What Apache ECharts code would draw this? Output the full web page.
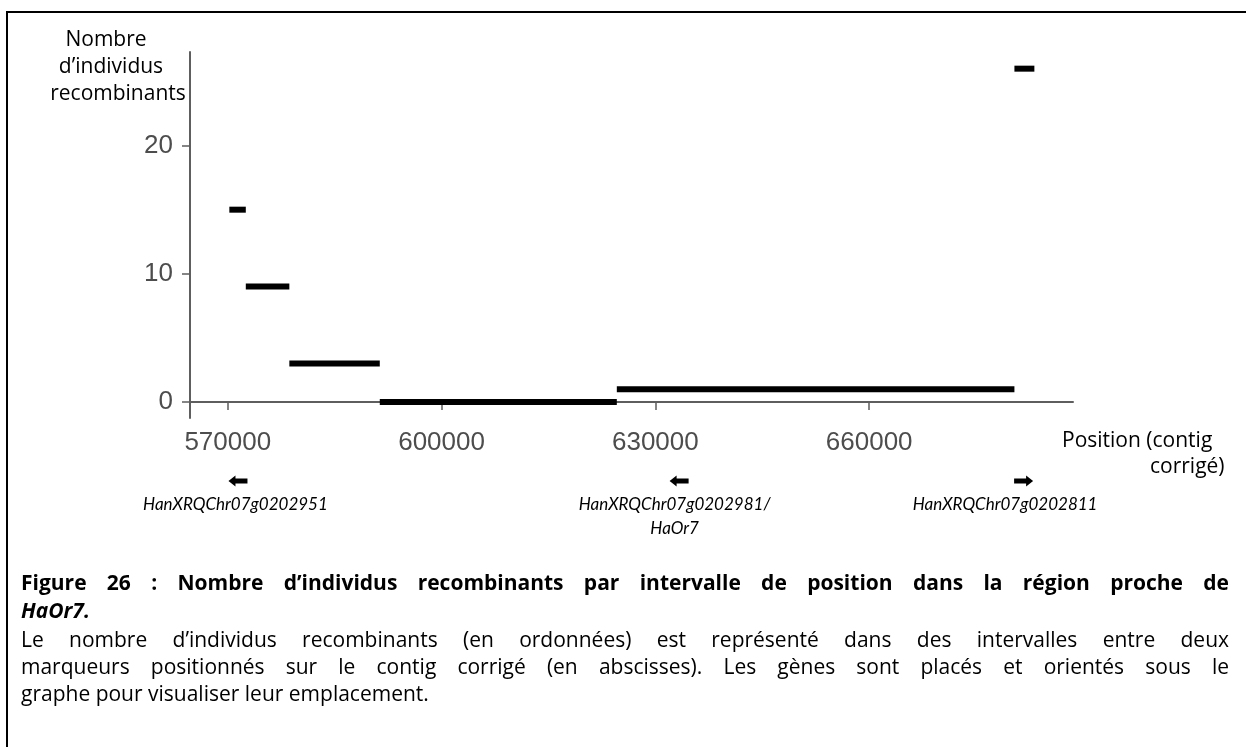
<!DOCTYPE html>
<html>
<head>
<meta charset="utf-8">
<script src="https://cdn.jsdelivr.net/npm/echarts@6/dist/echarts.min.js"></script>
<style>
  html, body { margin: 0; padding: 0; background: #fff; }
  #main { width: 1246px; height: 747px; }
</style>
</head>
<body>
<div id="main"></div>
<script>
// intervals between markers (position on corrected contig) and recombinant counts
const segStart = [570220, 572530, 578640, 591330, 624590, 680380];
const segEnd   = [572530, 578640, 591330, 624590, 680380, 683180];
const segCount = [15, 9, 3, 0, 1, 26];

const xTicks = [570000, 600000, 630000, 660000];
const yTicks = [0, 10, 20];

// genes under the graph
const geneNames = ["HanXRQChr07g0202951", "HanXRQChr07g0202981/\nHaOr7", "HanXRQChr07g0202811"];
const genePos = [571500, 633400, 681600];
const geneDir = ["left", "left", "right"];

const captionLines = [
  "Figure 26 : Nombre d\u2019individus recombinants par intervalle de position dans la r\u00e9gion proche de",
  "HaOr7.",
  "Le nombre d\u2019individus recombinants (en ordonn\u00e9es) est repr\u00e9sent\u00e9 dans des intervalles entre deux",
  "marqueurs positionn\u00e9s sur le contig corrig\u00e9 (en abscisses). Les g\u00e8nes sont plac\u00e9s et orient\u00e9s sous le",
  "graphe pour visualiser leur emplacement."
];

const segData = segStart.map((s, i) => [s, segEnd[i], segCount[i]]);
const axisGrey = "#5e5e5e";
const labelGrey = "#4d4d4d";
const textFont = "Open Sans";
const textSize = 21;

const chart = echarts.init(document.getElementById("main"));

chart.setOption({
  animation: false,
  grid: { left: 190, top: 52, right: 173, bottom: 329 },
  xAxis: {
    type: "value",
    min: 564700,
    max: 688600,
    axisLine: { lineStyle: { color: axisGrey, width: 2 } },
    axisTick: { show: true, length: 8, lineStyle: { color: axisGrey, width: 1.5 }, customValues: xTicks },
    axisLabel: {
      customValues: xTicks, color: labelGrey, fontSize: 26,
      fontFamily: "Liberation Sans", margin: 12,
      formatter: v => String(v)
    },
    splitLine: { show: false }
  },
  yAxis: {
    type: "value",
    min: -1.25,
    max: 27.3,
    axisLine: { show: true, lineStyle: { color: axisGrey, width: 2 } },
    axisTick: { show: true, length: 8, lineStyle: { color: axisGrey, width: 1.5 }, customValues: yTicks },
    axisLabel: {
      customValues: yTicks, color: labelGrey, fontSize: 26,
      fontFamily: "Liberation Sans", margin: 17
    },
    splitLine: { show: false }
  },
  series: [{
    type: "custom",
    data: segData,
    encode: { x: [0, 1], y: 2 },
    renderItem: function (params, api) {
      const p0 = api.coord([api.value(0), api.value(2)]);
      const p1 = api.coord([api.value(1), api.value(2)]);
      return {
        type: "line",
        shape: { x1: p0[0], y1: p0[1], x2: p1[0], y2: p1[1] },
        style: { stroke: "#000", lineWidth: 6 }
      };
    }
  }]
});

// words of a caption line spread to the full width (justified text)
const measureCtx = document.createElement("canvas").getContext("2d");
function captionText(line, y, weight, style, justify) {
  const left = 21, right = 1229, size = textSize;
  const base = { fill: "#000", fontSize: size, fontFamily: textFont, fontWeight: weight,
                 fontStyle: style, textVerticalAlign: "middle" };
  if (!justify) {
    return [{ type: "text", style: Object.assign({ text: line, x: left, y: y }, base) }];
  }
  measureCtx.font = style + " " + weight + " " + size + "px '" + textFont + "'";
  const words = line.split(" ");
  const widths = words.map(w => measureCtx.measureText(w).width);
  const total = widths.reduce((a, b) => a + b, 0);
  const minGap = measureCtx.measureText(" ").width * 0.7;
  const gap = Math.max(minGap, (right - left - total) / (words.length - 1));
  let x = left;
  return words.map((w, i) => {
    const el = { type: "text", style: Object.assign({ text: w, x: x, y: y }, base) };
    x += widths[i] + gap;
    return el;
  });
}

function arrow(cx, cy, dir) {
  const s = dir === "left" ? -1 : 1;
  const pts = [
    [cx + s * 10, cy], [cx + s * 3, cy - 5.5], [cx + s * 3, cy - 2.5], [cx - s * 9, cy - 2.5],
    [cx - s * 9, cy + 2.5], [cx + s * 3, cy + 2.5], [cx + s * 3, cy + 5.5]
  ];
  return { type: "polygon", shape: { points: pts }, style: { fill: "#000" } };
}

const graphics = [];
// frame
graphics.push({
  type: "polyline",
  shape: { points: [[7, 760], [7, 12], [1260, 12]] },
  style: { stroke: "#000", lineWidth: 2, fill: null }
});
// axis titles
const yTitle = ["Nombre", "d\u2019individus", "recombinants"];
const yTitleX = [106, 111, 118];
yTitle.forEach((t, i) => graphics.push({
  type: "text",
  style: { text: t, x: yTitleX[i], y: 40 + i * 27, fill: "#000", fontSize: textSize, fontFamily: textFont,
           textAlign: "center", textVerticalAlign: "middle" }
}));
graphics.push({ type: "text", style: { text: "Position (contig", x: 1062, y: 441, fill: "#000",
  fontSize: textSize, fontFamily: textFont, textVerticalAlign: "middle" } });
graphics.push({ type: "text", style: { text: "corrig\u00e9)", x: 1150, y: 467, fill: "#000",
  fontSize: textSize, fontFamily: textFont, textVerticalAlign: "middle" } });

// genes: arrow + italic name placed through the x scale
const labelShift = [-3, -5, -18];
genePos.forEach((p, i) => {
  const px = chart.convertToPixel({ xAxisIndex: 0 }, p);
  graphics.push(arrow(px, 481, geneDir[i]));
  graphics.push({
    type: "text",
    style: { text: geneNames[i], x: px + labelShift[i], y: 493, fill: "#000", fontSize: 17,
             fontFamily: "Lato", fontStyle: "italic", textAlign: "center", lineHeight: 24 }
  });
});

// caption
const capY = [584, 612, 641, 668, 695];
captionLines.forEach((line, i) => {
  const bold = i < 2;
  const italic = i === 1;
  const justify = i === 0 || i === 2 || i === 3;
  captionText(line, capY[i], bold ? "bold" : "normal", italic ? "italic" : "normal", justify)
    .forEach(el => graphics.push(el));
});

chart.setOption({ graphic: graphics });
</script>
</body>
</html>
